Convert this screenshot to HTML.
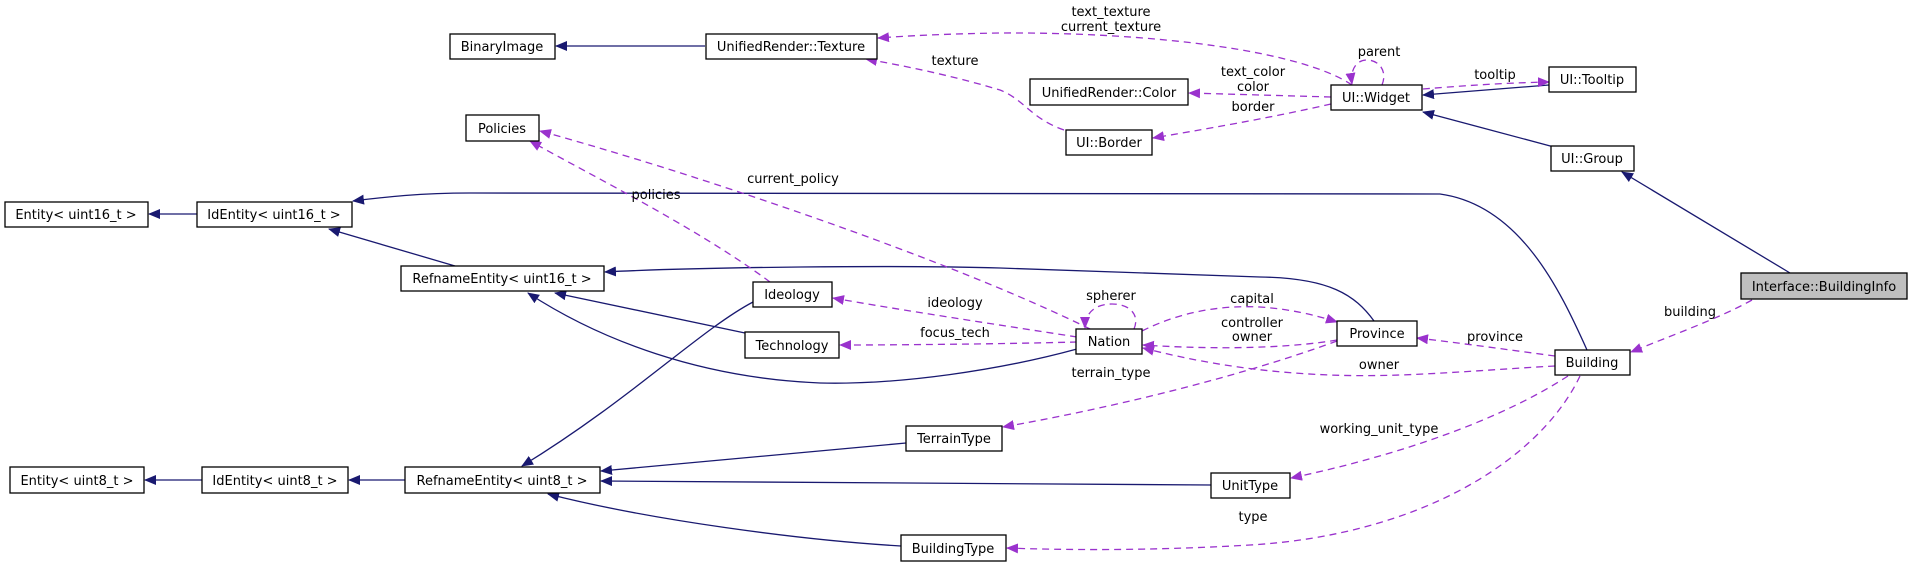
<!DOCTYPE html>
<html><head><meta charset="utf-8"><style>
html,body{margin:0;padding:0;background:#fff;}
svg{display:block;}
text{font-family:"DejaVu Sans","Liberation Sans",sans-serif;font-size:13px;fill:#000;}
.b{fill:#fff;stroke:#000;stroke-width:1.3;}
.s{fill:none;stroke:#191970;stroke-width:1.3;}
.d{fill:none;stroke:#9a32cd;stroke-width:1.3;stroke-dasharray:7,5;}
</style></head><body>
<svg width="1913" height="567" viewBox="0 0 1913 567" xmlns="http://www.w3.org/2000/svg">
<defs>
<marker id="mb" viewBox="0 0 12 10" refX="11" refY="5" markerWidth="12" markerHeight="10" markerUnits="userSpaceOnUse" orient="auto"><path d="M0,0 L12,5 L0,10 z" fill="#191970"/></marker>
<marker id="mp" viewBox="0 0 12 10" refX="11" refY="5" markerWidth="12" markerHeight="10" markerUnits="userSpaceOnUse" orient="auto"><path d="M0,0 L12,5 L0,10 z" fill="#9a32cd"/></marker>
</defs>

<!-- solid inheritance edges -->
<path class="s" marker-end="url(#mb)" d="M705,46 L556,46"/>
<path class="s" marker-end="url(#mb)" d="M1549,85 L1423,95"/>
<path class="s" marker-end="url(#mb)" d="M1554,147 L1423,112"/>
<path class="s" marker-end="url(#mb)" d="M1790,273 L1622,172"/>
<path class="s" marker-end="url(#mb)" d="M1587,350 C1560,290 1520,205 1440,194 L470,193 C420,193 385,197 353,201"/>
<path class="s" marker-end="url(#mb)" d="M197,214 L149,214"/>
<path class="s" marker-end="url(#mb)" d="M455,266 L329,229"/>
<path class="s" marker-end="url(#mb)" d="M1374,321 C1355,295 1330,278 1260,277 L1000,268 C900,265 700,267 605,272"/>
<path class="s" marker-end="url(#mb)" d="M745,333 L555,293"/>
<path class="s" marker-end="url(#mb)" d="M1077,349 C1000,370 900,385 820,383 C700,378 600,340 528,293"/>
<path class="s" marker-end="url(#mb)" d="M753,302 C700,330 630,400 522,466"/>
<path class="s" marker-end="url(#mb)" d="M906,443 L601,471"/>
<path class="s" marker-end="url(#mb)" d="M1211,485 L601,481"/>
<path class="s" marker-end="url(#mb)" d="M901,546 C800,540 650,520 548,494"/>
<path class="s" marker-end="url(#mb)" d="M405,480 L349,480"/>
<path class="s" marker-end="url(#mb)" d="M202,480 L145,480"/>

<!-- dashed member edges -->
<path class="d" marker-end="url(#mp)" d="M1352,85 C1300,50 1150,32 1000,33 C940,34 905,36 878,38"/>
<path class="d" marker-end="url(#mp)" d="M1064,130 C1030,118 1025,100 1000,90 C950,75 905,66 866,59"/>
<path class="d" marker-end="url(#mp)" d="M1331,97 L1189,93"/>
<path class="d" marker-end="url(#mp)" d="M1331,104 C1270,118 1200,130 1153,138"/>
<path class="d" marker-end="url(#mp)" d="M1382,85 C1388,70 1378,60 1367,60 C1356,60 1350,70 1352,84"/>
<path class="d" marker-end="url(#mp)" d="M1423,89 C1460,86 1500,83 1549,82"/>
<path class="d" marker-end="url(#mp)" d="M1752,300 C1720,318 1670,336 1631,352"/>
<path class="d" marker-end="url(#mp)" d="M1090,329 C950,260 700,175 540,131"/>
<path class="d" marker-end="url(#mp)" d="M770,282 C700,230 600,180 530,141"/>
<path class="d" marker-end="url(#mp)" d="M1077,337 C1000,325 900,310 833,298"/>
<path class="d" marker-end="url(#mp)" d="M1077,342 C1000,344 900,345 840,345"/>
<path class="d" marker-end="url(#mp)" d="M1134,329 C1140,315 1130,304 1112,304 C1095,304 1085,313 1085,328"/>
<path class="d" marker-end="url(#mp)" d="M1142,331 C1180,312 1220,305 1260,307 C1290,309 1315,315 1337,322"/>
<path class="d" marker-end="url(#mp)" d="M1337,340 C1290,348 1220,350 1143,345"/>
<path class="d" marker-end="url(#mp)" d="M1337,341 C1230,380 1100,410 1003,427"/>
<path class="d" marker-end="url(#mp)" d="M1555,356 C1510,350 1460,343 1417,338"/>
<path class="d" marker-end="url(#mp)" d="M1555,366 C1480,370 1400,378 1330,375 C1250,372 1190,360 1143,348"/>
<path class="d" marker-end="url(#mp)" d="M1568,376 C1500,420 1400,455 1291,478"/>
<path class="d" marker-end="url(#mp)" d="M1580,376 C1540,460 1420,535 1250,545 C1150,551 1060,550 1007,548"/>

<!-- nodes -->
<rect class="b" x="450" y="34" width="105" height="25"/><text x="502" y="51" text-anchor="middle">BinaryImage</text>
<rect class="b" x="706" y="34" width="171" height="25"/><text x="791" y="51" text-anchor="middle">UnifiedRender::Texture</text>
<rect class="b" x="1030" y="79" width="158" height="26"/><text x="1109" y="97" text-anchor="middle">UnifiedRender::Color</text>
<rect class="b" x="1066" y="130" width="86" height="25"/><text x="1109" y="147" text-anchor="middle">UI::Border</text>
<rect class="b" x="1331" y="85" width="91" height="25"/><text x="1376" y="102" text-anchor="middle">UI::Widget</text>
<rect class="b" x="1549" y="67" width="87" height="25"/><text x="1592" y="84" text-anchor="middle">UI::Tooltip</text>
<rect class="b" x="1551" y="146" width="83" height="25"/><text x="1592" y="163" text-anchor="middle">UI::Group</text>
<rect class="b" x="466" y="115" width="73" height="26"/><text x="502" y="133" text-anchor="middle">Policies</text>
<rect class="b" x="5" y="202" width="143" height="25"/><text x="76" y="219" text-anchor="middle">Entity&lt; uint16_t &gt;</text>
<rect class="b" x="197" y="202" width="155" height="25"/><text x="274" y="219" text-anchor="middle">IdEntity&lt; uint16_t &gt;</text>
<rect class="b" x="401" y="266" width="203" height="25"/><text x="502" y="283" text-anchor="middle">RefnameEntity&lt; uint16_t &gt;</text>
<rect class="b" x="753" y="282" width="79" height="25"/><text x="792" y="299" text-anchor="middle">Ideology</text>
<rect class="b" x="745" y="332" width="94" height="26"/><text x="792" y="350" text-anchor="middle">Technology</text>
<rect class="b" x="1076" y="329" width="66" height="25"/><text x="1109" y="346" text-anchor="middle">Nation</text>
<rect class="b" x="1337" y="321" width="80" height="25"/><text x="1377" y="338" text-anchor="middle">Province</text>
<rect class="b" x="1555" y="350" width="75" height="25"/><text x="1592" y="367" text-anchor="middle">Building</text>
<rect x="1741" y="273" width="166" height="26" fill="#bfbfbf" stroke="#000" stroke-width="1.3"/><text x="1824" y="291" text-anchor="middle">Interface::BuildingInfo</text>
<rect class="b" x="906" y="426" width="96" height="25"/><text x="954" y="443" text-anchor="middle">TerrainType</text>
<rect class="b" x="1211" y="473" width="79" height="25"/><text x="1250" y="490" text-anchor="middle">UnitType</text>
<rect class="b" x="901" y="535" width="105" height="26"/><text x="953" y="553" text-anchor="middle">BuildingType</text>
<rect class="b" x="10" y="467" width="134" height="26"/><text x="77" y="485" text-anchor="middle">Entity&lt; uint8_t &gt;</text>
<rect class="b" x="202" y="467" width="146" height="26"/><text x="275" y="485" text-anchor="middle">IdEntity&lt; uint8_t &gt;</text>
<rect class="b" x="405" y="467" width="195" height="26"/><text x="502" y="485" text-anchor="middle">RefnameEntity&lt; uint8_t &gt;</text>

<!-- edge labels -->
<g text-anchor="middle">
<text x="1111" y="16">text_texture</text>
<text x="1111" y="31">current_texture</text>
<text x="955" y="65">texture</text>
<text x="1253" y="76">text_color</text>
<text x="1253" y="91">color</text>
<text x="1253" y="111">border</text>
<text x="1379" y="56">parent</text>
<text x="1495" y="79">tooltip</text>
<text x="793" y="183">current_policy</text>
<text x="656" y="199">policies</text>
<text x="955" y="307">ideology</text>
<text x="955" y="337">focus_tech</text>
<text x="1111" y="300">spherer</text>
<text x="1252" y="303">capital</text>
<text x="1252" y="327">controller</text>
<text x="1252" y="341">owner</text>
<text x="1111" y="377">terrain_type</text>
<text x="1495" y="341">province</text>
<text x="1379" y="369">owner</text>
<text x="1690" y="316">building</text>
<text x="1379" y="433">working_unit_type</text>
<text x="1253" y="521">type</text>
</g>
</svg>
</body></html>
